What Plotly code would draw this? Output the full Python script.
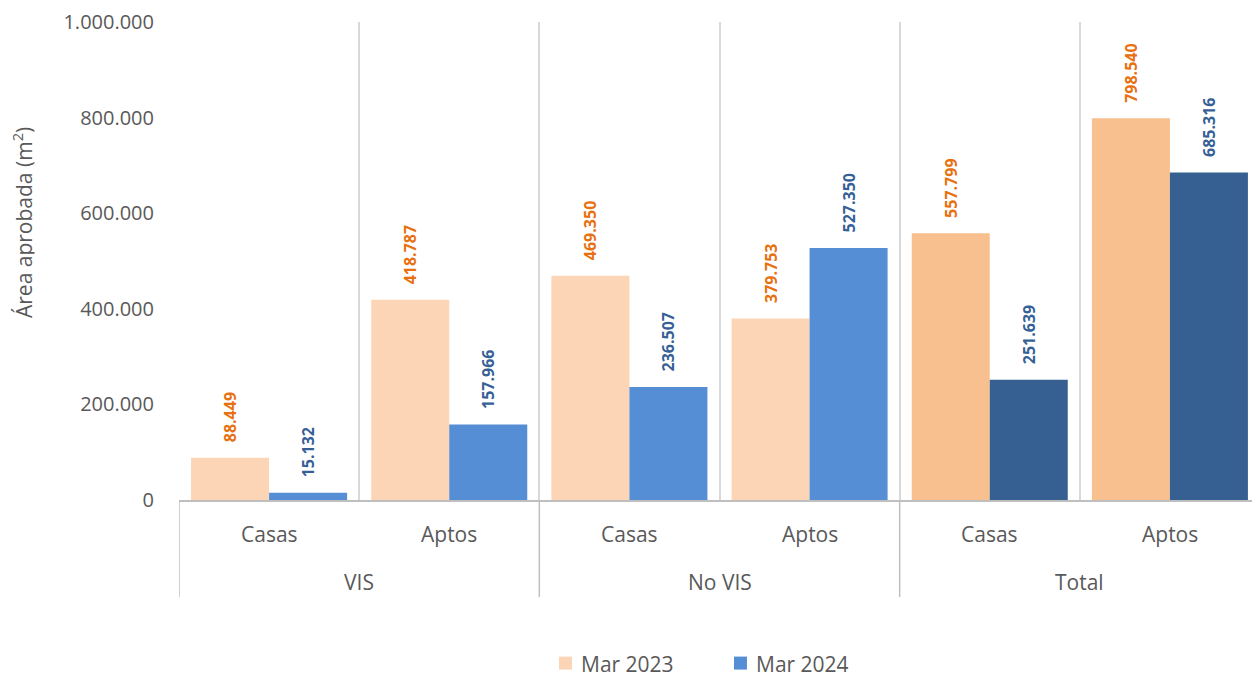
import plotly.graph_objects as go

# categories
sub_labels = ["Casas", "Aptos", "Casas", "Aptos", "Casas", "Aptos"]
group_labels = ["VIS", "No VIS", "Total"]
series_names = ["Mar 2023", "Mar 2024"]

# series values (m2)
mar_2023 = [88449, 418787, 469350, 379753, 557799, 798540]
mar_2024 = [15132, 157966, 236507, 527350, 251639, 685316]

y_ticks = [0, 200000, 400000, 600000, 800000, 1000000]

x_pos = list(range(len(sub_labels)))

col_2023 = ["#FBD5B5"] * 4 + ["#F8C08E"] * 2
col_2024 = ["#558ED5"] * 4 + ["#366092"] * 2

# leading spaces push the rotated label up from the bar top
lab_tpl = "\u00a0\u00a0\u00a0%{y:,d}"

fig = go.Figure()

fig.add_trace(go.Bar(
    x=x_pos, y=mar_2023, name=series_names[0],
    marker=dict(color=col_2023, line=dict(width=0)),
    texttemplate=lab_tpl, textposition="outside", textangle=-90,
    constraintext="none",
    textfont=dict(family="Open Sans", size=16, color="#E8700F", weight="bold"),
    cliponaxis=False,
))
fig.add_trace(go.Bar(
    x=x_pos, y=mar_2024, name=series_names[1],
    marker=dict(color=col_2024, line=dict(width=0)),
    texttemplate=lab_tpl, textposition="outside", textangle=-90,
    constraintext="none",
    textfont=dict(family="Open Sans", size=16, color="#365F96", weight="bold"),
    cliponaxis=False,
))

# page body adds an 8px offset; margins are shifted to compensate
fig.update_layout(
    width=1252, height=670,
    margin=dict(l=171, r=0, t=14, b=178),
    plot_bgcolor="white", paper_bgcolor="white",
    barmode="group", bargap=0.134, bargroupgap=0,
    separators=",.",
    font=dict(family="Open Sans", color="#595959", size=20),
    showlegend=False,
)

fig.update_xaxes(
    range=[-0.5, 5.5],
    tickvals=[-0.5, 0.5, 1.5, 2.5, 3.5, 4.5],
    showticklabels=False, ticks="",
    showgrid=True, gridcolor="#D9D9D9", gridwidth=1.5,
    showline=True, linecolor="#BFBFBF", linewidth=1.5,
    zeroline=False, automargin=False,
)
fig.update_yaxes(
    range=[0, 1000000], tickvals=y_ticks, tickformat=",d",
    showgrid=False, zeroline=False, showline=False,
    ticklabelstandoff=24, automargin=False,
    tickfont=dict(size=20, color="#595959"),
)

# category labels below the axis
for i, lab in enumerate(sub_labels):
    fig.add_annotation(x=i, y=-0.071, xref="x", yref="paper", text=lab,
                       showarrow=False, yanchor="middle",
                       font=dict(size=21, color="#595959"))
for g, lab in enumerate(group_labels):
    fig.add_annotation(x=2 * g + 0.5, y=-0.172, xref="x", yref="paper", text=lab,
                       showarrow=False, yanchor="middle",
                       font=dict(size=21, color="#595959"))
for xb in [-0.5, 1.5, 3.5]:
    fig.add_shape(type="line", x0=xb, x1=xb, y0=0, y1=-0.203,
                  xref="x", yref="paper",
                  line=dict(color="#BFBFBF", width=1.5))

fig.add_annotation(x=-0.145, y=0.58, xref="paper", yref="paper",
                   xanchor="center", yanchor="middle", height=24,
                   text="Área aprobada (m<sup>2</sup>)", textangle=-90,
                   showarrow=False, font=dict(size=21, color="#595959"))

# legend drawn by hand so it does not push the bottom margin
legend_x = [0.3515, 0.5134]
legend_col = [col_2023[0], col_2024[0]]
for lx, name, c in zip(legend_x, series_names, legend_col):
    fig.add_shape(type="rect", xref="paper", yref="paper",
                  x0=lx, x1=lx + 0.012, y0=-0.3276, y1=-0.3548,
                  fillcolor=c, line=dict(width=0))
    fig.add_annotation(x=lx + 0.0185, y=-0.3425, xref="paper", yref="paper",
                       xanchor="left", yanchor="middle", text=name, height=20,
                       showarrow=False, font=dict(size=21, color="#595959"))

fig.write_html("out.html")
